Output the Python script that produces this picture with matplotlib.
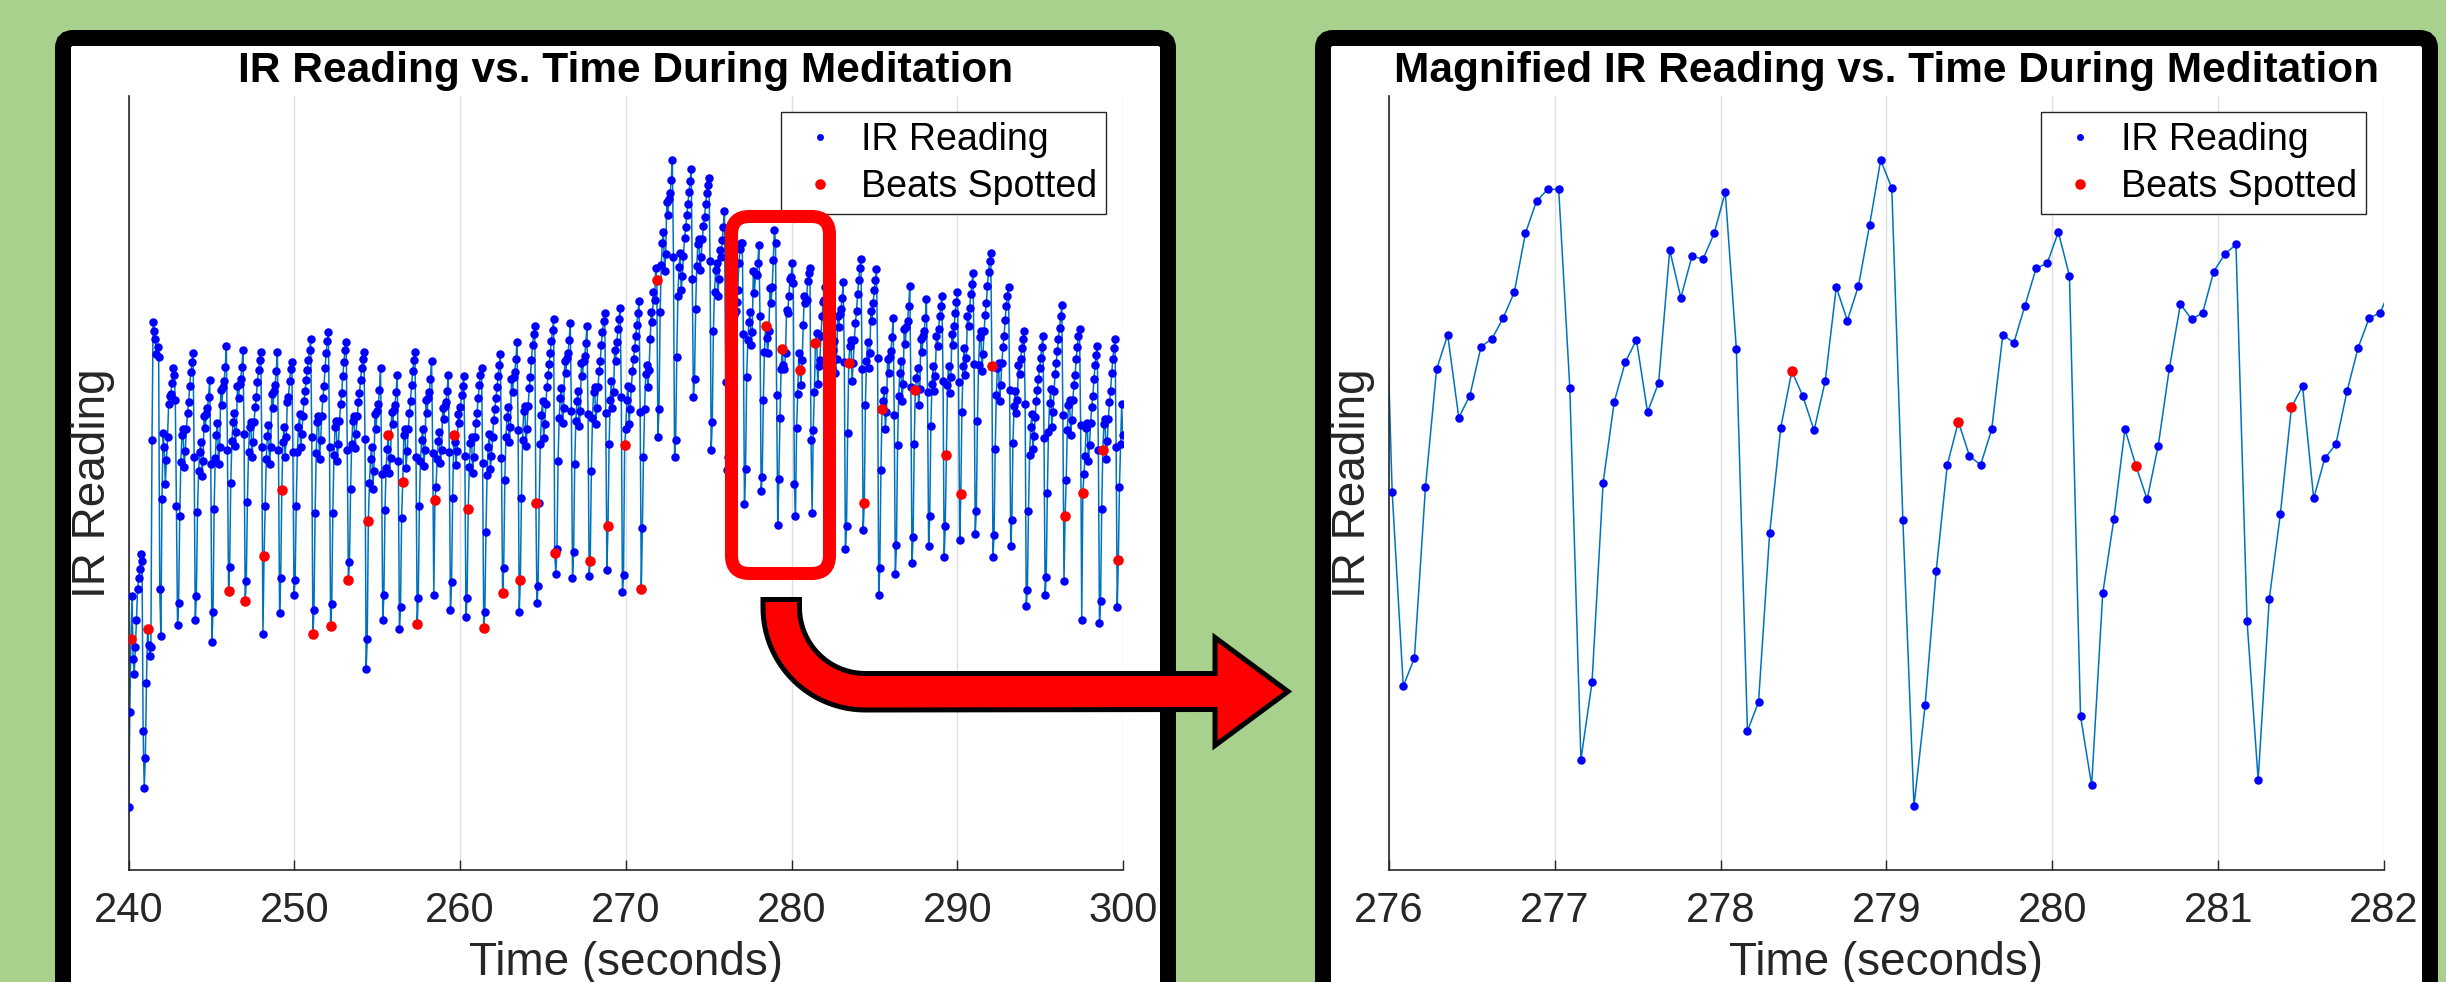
import numpy as np
import matplotlib
matplotlib.use("Agg")
import matplotlib.pyplot as plt
from matplotlib.patches import FancyBboxPatch, Polygon

plt.rcParams['font.family'] = ['Liberation Sans', 'DejaVu Sans']

W, H = 2446, 982
GREEN = '#A9D18E'
LINE = '#0072BD'
BLUE = '#0000FF'
RED = '#FF0000'
INK = '#262626'

# sampling of the IR sensor
T_START = 240.0
DT = 0.06695  # s between samples (~14.9 Hz)

# IR readings 240 s -> 275.9 s, one row per heartbeat (trough ... peak, drop)
ir_before = [
    463, 682, 850, 948, 803, 769, 830, 893, 964, 990, 1010, 1045, 1030, 638,
    506, 576, 747, 872, 835, 810, 830, 1308, 1579, 1560, 1540, 1506, 1522, 1500, 964,
    857, 1173, 1325, 1292, 1207, 1262, 1315, 1390, 1410, 1415, 1440, 1473, 1459, 1400, 1157,
    882, 932, 1132, 1258, 1320, 1333, 1245, 1283, 1333, 1370, 1395, 1433, 1464, 1489, 1508, 1270,
    893, 948, 1142, 1236, 1281, 1303, 1225, 1259, 1364, 1336, 1369, 1381, 1408, 1447, 1253,
    843, 911, 1150, 1266, 1320, 1348, 1252, 1293, 1423, 1389, 1430, 1443, 1477, 1525, 1286,
    960, 1016, 1210, 1305, 1349, 1371, 1294, 1327, 1433, 1405, 1438, 1449, 1477, 1516, 1321,
    936, 982, 1166, 1280, 1338, 1349, 1269, 1303, 1349, 1384, 1407, 1441, 1470, 1493, 1510, 1292,
    862, 1041, 1155, 1265, 1317, 1343, 1252, 1291, 1415, 1382, 1421, 1434, 1467, 1512, 1285,
    909, 990, 1192, 1303, 1338, 1269, 1315, 1396, 1408, 1443, 1472, 1489, 1280,
    950, 985, 1157, 1280, 1339, 1369, 1292, 1322, 1363, 1398, 1422, 1446, 1469, 1493, 1516, 1540, 1316,
    860, 916, 1139, 1279, 1349, 1363, 1265, 1307, 1363, 1404, 1432, 1474, 1509, 1537, 1558, 1293,
    879, 931, 1141, 1273, 1338, 1351, 1259, 1299, 1351, 1391, 1417, 1456, 1489, 1515, 1535, 1286,
    986, 1028, 1196, 1300, 1353, 1363, 1290, 1321, 1363, 1395, 1416, 1447, 1473, 1494, 1510, 1311,
    780, 849, 1122, 1210, 1265, 1293, 1196, 1237, 1369, 1334, 1376, 1390, 1424, 1473, 1230,
    894, 950, 1147, 1243, 1288, 1319, 1232, 1266, 1373, 1344, 1378, 1389, 1418, 1457, 1260,
    873, 924, 1129, 1212, 1320, 1333, 1244, 1282, 1333, 1371, 1397, 1435, 1467, 1493, 1512, 1269,
    884, 945, 1157, 1260, 1309, 1333, 1248, 1285, 1400, 1370, 1406, 1418, 1449, 1491, 1279,
    952, 1170, 1200, 1265, 1306, 1326, 1255, 1285, 1381, 1356, 1386, 1396, 1422, 1457, 1280,
    916, 981, 1175, 1320, 1304, 1250, 1283, 1369, 1347, 1385, 1412, 1433, 1455, 1272,
    899, 945, 1148, 1245, 1302, 1314, 1233, 1268, 1314, 1348, 1371, 1406, 1435, 1458, 1475, 1256,
    874, 912, 1095, 1228, 1291, 1323, 1241, 1272, 1316, 1354, 1380, 1405, 1430, 1455, 1481, 1506, 1266,
    955, 1013, 1216, 1315, 1361, 1384, 1303, 1338, 1448, 1419, 1454, 1465, 1494, 1535, 1332,
    911, 986, 1175, 1308, 1374, 1387, 1294, 1334, 1387, 1427, 1453, 1493, 1526, 1552, 1572, 1162,
    932, 971, 1162, 1299, 1365, 1398, 1312, 1345, 1391, 1431, 1457, 1483, 1509, 1536, 1562, 1588, 1048,
    1000, 1058, 1260, 1358, 1405, 1428, 1347, 1381, 1491, 1462, 1497, 1509, 1538, 1578, 1376,
    991, 1049, 1252, 1351, 1398, 1421, 1340, 1374, 1485, 1456, 1491, 1502, 1531, 1572, 1369,
    995, 1030, 1237, 1358, 1419, 1431, 1346, 1382, 1431, 1467, 1491, 1527, 1558, 1582, 1600, 1370,
    1009, 1110, 1298, 1401, 1443, 1383, 1419, 1516, 1491, 1534, 1564, 1588, 1612, 1407,
    957, 997, 1296, 1333, 1400, 1433, 1346, 1380, 1427, 1467, 1494, 1521, 1547, 1574, 1601, 1628, 1373,
    964, 1105, 1270, 1380, 1460, 1480, 1430, 1470, 1540, 1602, 1580, 1650, 1630, 1705, 1677,
    1316, 1380, 1603, 1711, 1762, 1787, 1698, 1736, 1857, 1826, 1864, 1877, 1908, 1953, 1730,
    1268, 1308, 1500, 1640, 1706, 1739, 1653, 1686, 1733, 1773, 1799, 1826, 1852, 1879, 1905, 1932, 1680,
    1408, 1448, 1610, 1710, 1761, 1771, 1700, 1731, 1771, 1801, 1821, 1852, 1877, 1897, 1912, 1720,
    1285, 1350, 1560, 1650, 1700, 1715, 1640, 1680, 1745, 1730, 1770, 1800,
]

# IR readings of the magnified window, 275.95 s -> 281.98 s
ir_window = [
    1835.0,
    1442.9, 1238.3, 1267.8, 1448.2, 1572.0, 1608.3, 1521.2, 1544.4, 1595.7, 1604.4,
    1626.2, 1653.2, 1715.2, 1749.0, 1761.6, 1761.6, 1552.7, 1160.9, 1242.2, 1452.6,
    1537.7, 1579.7, 1603.0, 1527.0, 1558.0, 1697.7, 1647.4, 1691.0, 1688.1, 1715.2,
    1758.7, 1593.8, 1190.9, 1221.9, 1399.4, 1510.6, 1570.1, 1543.5, 1507.7, 1559.4,
    1658.6, 1623.3, 1660.0, 1723.9, 1792.5, 1763.0, 1412.9, 1112.1, 1218.0, 1359.7,
    1471.4, 1516.9, 1480.6, 1471.4, 1508.7, 1608.3, 1600.1, 1639.2, 1678.4, 1683.7,
    1716.6, 1670.7, 1206.9, 1133.9, 1336.0, 1413.9, 1509.1, 1470.0, 1435.1, 1491.7,
    1573.0, 1640.7, 1624.7, 1631.5, 1675.0, 1693.4, 1703.5, 1307.0, 1139.7, 1330.2,
    1419.7, 1532.3, 1554.1, 1436.1, 1478.2, 1493.2, 1548.8, 1594.7, 1626.2, 1631.5,
]

# IR readings 282.05 s -> 300 s
ir_after = [
    1660, 1690, 1420,
    1150, 1202, 1385, 1474, 1515, 1536, 1463, 1495, 1594, 1568, 1599, 1609, 1635, 1672, 1489,
    1058, 1111, 1325, 1485, 1525, 1538, 1445, 1485, 1538, 1578, 1605, 1645, 1678, 1705, 1725, 1471,
    1100, 1162, 1389, 1491, 1533, 1473, 1509, 1606, 1582, 1624, 1654, 1678, 1702, 1497,
    950, 1014, 1238, 1379, 1398, 1424, 1334, 1372, 1494, 1462, 1500, 1513, 1545, 1590, 1366,
    999, 1065, 1297, 1410, 1463, 1490, 1397, 1437, 1563, 1529, 1569, 1582, 1616, 1662, 1430,
    1024, 1085, 1298, 1424, 1450, 1474, 1389, 1425, 1541, 1510, 1547, 1559, 1589, 1632, 1419,
    1063, 1132, 1340, 1438, 1478, 1421, 1455, 1548, 1525, 1565, 1594, 1617, 1640, 1444,
    1038, 1111, 1274, 1436, 1479, 1417, 1454, 1552, 1528, 1570, 1601, 1626, 1650, 1442,
    1078, 1184, 1373, 1478, 1521, 1459, 1496, 1595, 1570, 1613, 1644, 1668, 1693, 1484,
    1092, 1144, 1351, 1481, 1546, 1559, 1468, 1507, 1559, 1597, 1623, 1662, 1695, 1721, 1740, 1479,
    1039, 1089, 1287, 1412, 1474, 1486, 1399, 1436, 1486, 1523, 1548, 1585, 1617, 1641, 1660, 1424,
    1063, 1123, 1302, 1386, 1421, 1371, 1401, 1480, 1461, 1495, 1520, 1540, 1560, 1391,
    926, 963, 1144, 1274, 1337, 1368, 1287, 1318, 1361, 1399, 1424, 1448, 1473, 1498, 1523, 1548, 1312,
    952, 992, 1186, 1326, 1393, 1426, 1339, 1373, 1420, 1460, 1486, 1513, 1540, 1567, 1593, 1620, 1366,
    982, 1134, 1215, 1331, 1389, 1401, 1320, 1354, 1401, 1436, 1459, 1494, 1523, 1547, 1564, 1343,
    893, 1186, 1230, 1272, 1335, 1347, 1259, 1297, 1347, 1385, 1410, 1448, 1480, 1505, 1524, 1284,
    886, 938, 1148, 1286, 1344, 1357, 1265, 1305, 1357, 1396, 1422, 1462, 1494, 1520, 1540, 1291,
    924, 1032, 1200, 1300, 1390, 1320,
]

# samples flagged by the beat detector
beat_idx = [2, 17, 90, 105, 122, 138, 166, 182, 198, 216, 234, 247, 260, 276, 293,
            306, 320, 337, 353, 367, 384, 416, 432, 447, 462, 476, 574, 589, 605, 619,
            649, 663, 679, 709, 737, 750, 778, 844, 860, 878, 892]

full_ticks = [240, 250, 260, 270, 280, 290, 300]
zoom_ticks = [276, 277, 278, 279, 280, 281, 282]

assert len(ir_before) == 537 and len(ir_window) == 91 and len(ir_after) == 269

ir = np.array(ir_before + ir_window + ir_after, dtype=float)
t = T_START + DT * np.arange(len(ir))
beats = np.array(beat_idx)

fig = plt.figure(figsize=(W / 100, H / 100), dpi=100, facecolor=GREEN)


def px_rect(x0, y0, x1, y1):
    # pixel box measured from the top-left corner -> figure fraction
    return [x0 / W, 1 - y1 / H, (x1 - x0) / W, (y1 - y0) / H]


# white cards with thick black borders behind the two plots
bg = fig.add_axes([0, 0, 1, 1], zorder=-1)
bg.set_xlim(0, W)
bg.set_ylim(H, 0)
bg.axis('off')
for x0, x1 in [(63, 1168), (1323, 2430)]:
    bg.add_patch(FancyBboxPatch((x0, 38), x1 - x0, 1100,
                                boxstyle='round,pad=0,rounding_size=10',
                                fc='white', ec='black', lw=11.5))


def panel(box, xlim, ylim, ticks, title, anchor):
    ax = fig.add_axes(px_rect(*box))
    ax.plot(t, ir, color=LINE, lw=1.1, zorder=2)
    ax.plot(t, ir, ls='none', marker='o', ms=6.1, mfc=BLUE, mec=BLUE, mew=0,
            label='IR Reading', zorder=3)
    ax.plot(t[beats], ir[beats], ls='none', marker='o', ms=7.6, mfc=RED, mec=RED,
            mew=0, label='Beats Spotted', zorder=4)
    ax.set_xlim(xlim)
    ax.set_ylim(ylim)
    ax.set_xticks(ticks)
    ax.set_yticks([])
    ax.grid(axis='x', color='#DFDFDF', lw=1)
    ax.set_axisbelow(True)
    for s in ['top', 'right']:
        ax.spines[s].set_visible(False)
    for s in ['left', 'bottom']:
        ax.spines[s].set_color(INK)
        ax.spines[s].set_linewidth(1.2)
    ax.tick_params(axis='x', direction='in', length=7, width=1, color=INK,
                   labelsize=30, labelcolor=INK, pad=15)
    ax.set_xlabel('Time (seconds)', fontsize=33, color=INK, labelpad=7)
    ax.set_ylabel('IR Reading', fontsize=33, color=INK, labelpad=10)
    ax.set_title(title, fontsize=30.5, fontweight='bold', pad=10)
    leg = ax.legend(loc='upper right', bbox_to_anchor=anchor, borderaxespad=0,
                    fontsize=27, fancybox=False, framealpha=1, edgecolor=INK,
                    borderpad=0.25, labelspacing=0.3, handlelength=1.56,
                    handletextpad=0.3, numpoints=1)
    leg.get_frame().set_linewidth(1)
    leg.legend_handles[0].set_markersize(5.0)
    return ax


panel((128.7, 96, 1123, 870), (240, 300), (317, 2101), full_ticks,
      'IR Reading vs. Time During Meditation', (0.983, 0.979))
panel((1389, 96, 2384, 870), (276, 282), (1044.7, 1859.9), zoom_ticks,
      'Magnified IR Reading vs. Time During Meditation', (0.982, 0.979))

# red highlight box and the arrow pointing to the magnified view
ov = fig.add_axes([0, 0, 1, 1], zorder=5)
ov.set_xlim(0, W)
ov.set_ylim(H, 0)
ov.axis('off')
ov.add_patch(FancyBboxPatch((731.5, 216.5), 98, 357,
                            boxstyle='round,pad=0,rounding_size=18',
                            fc='none', ec=RED, lw=9.4))

cx, cy, r_in, r_out = 865.5, 607.5, 66, 102.5
ang = np.linspace(np.pi, np.pi / 2, 40)
inner = np.column_stack([cx + r_in * np.cos(ang), cy + r_in * np.sin(ang)])
outer = np.column_stack([cx + r_out * np.cos(ang[::-1]), cy + r_out * np.sin(ang[::-1])])
pts = ([(763, 599.5), (799.5, 599.5)] + inner.tolist() +
       [(1215, 673.5), (1215, 637.5), (1288, 691.5), (1215, 745.5), (1215, 709.5)] +
       outer.tolist())
ov.add_patch(Polygon(pts, closed=True, fc=RED, ec='black', lw=3.6, joinstyle='miter'))

fig.savefig('out.png', dpi=100, facecolor=GREEN)
